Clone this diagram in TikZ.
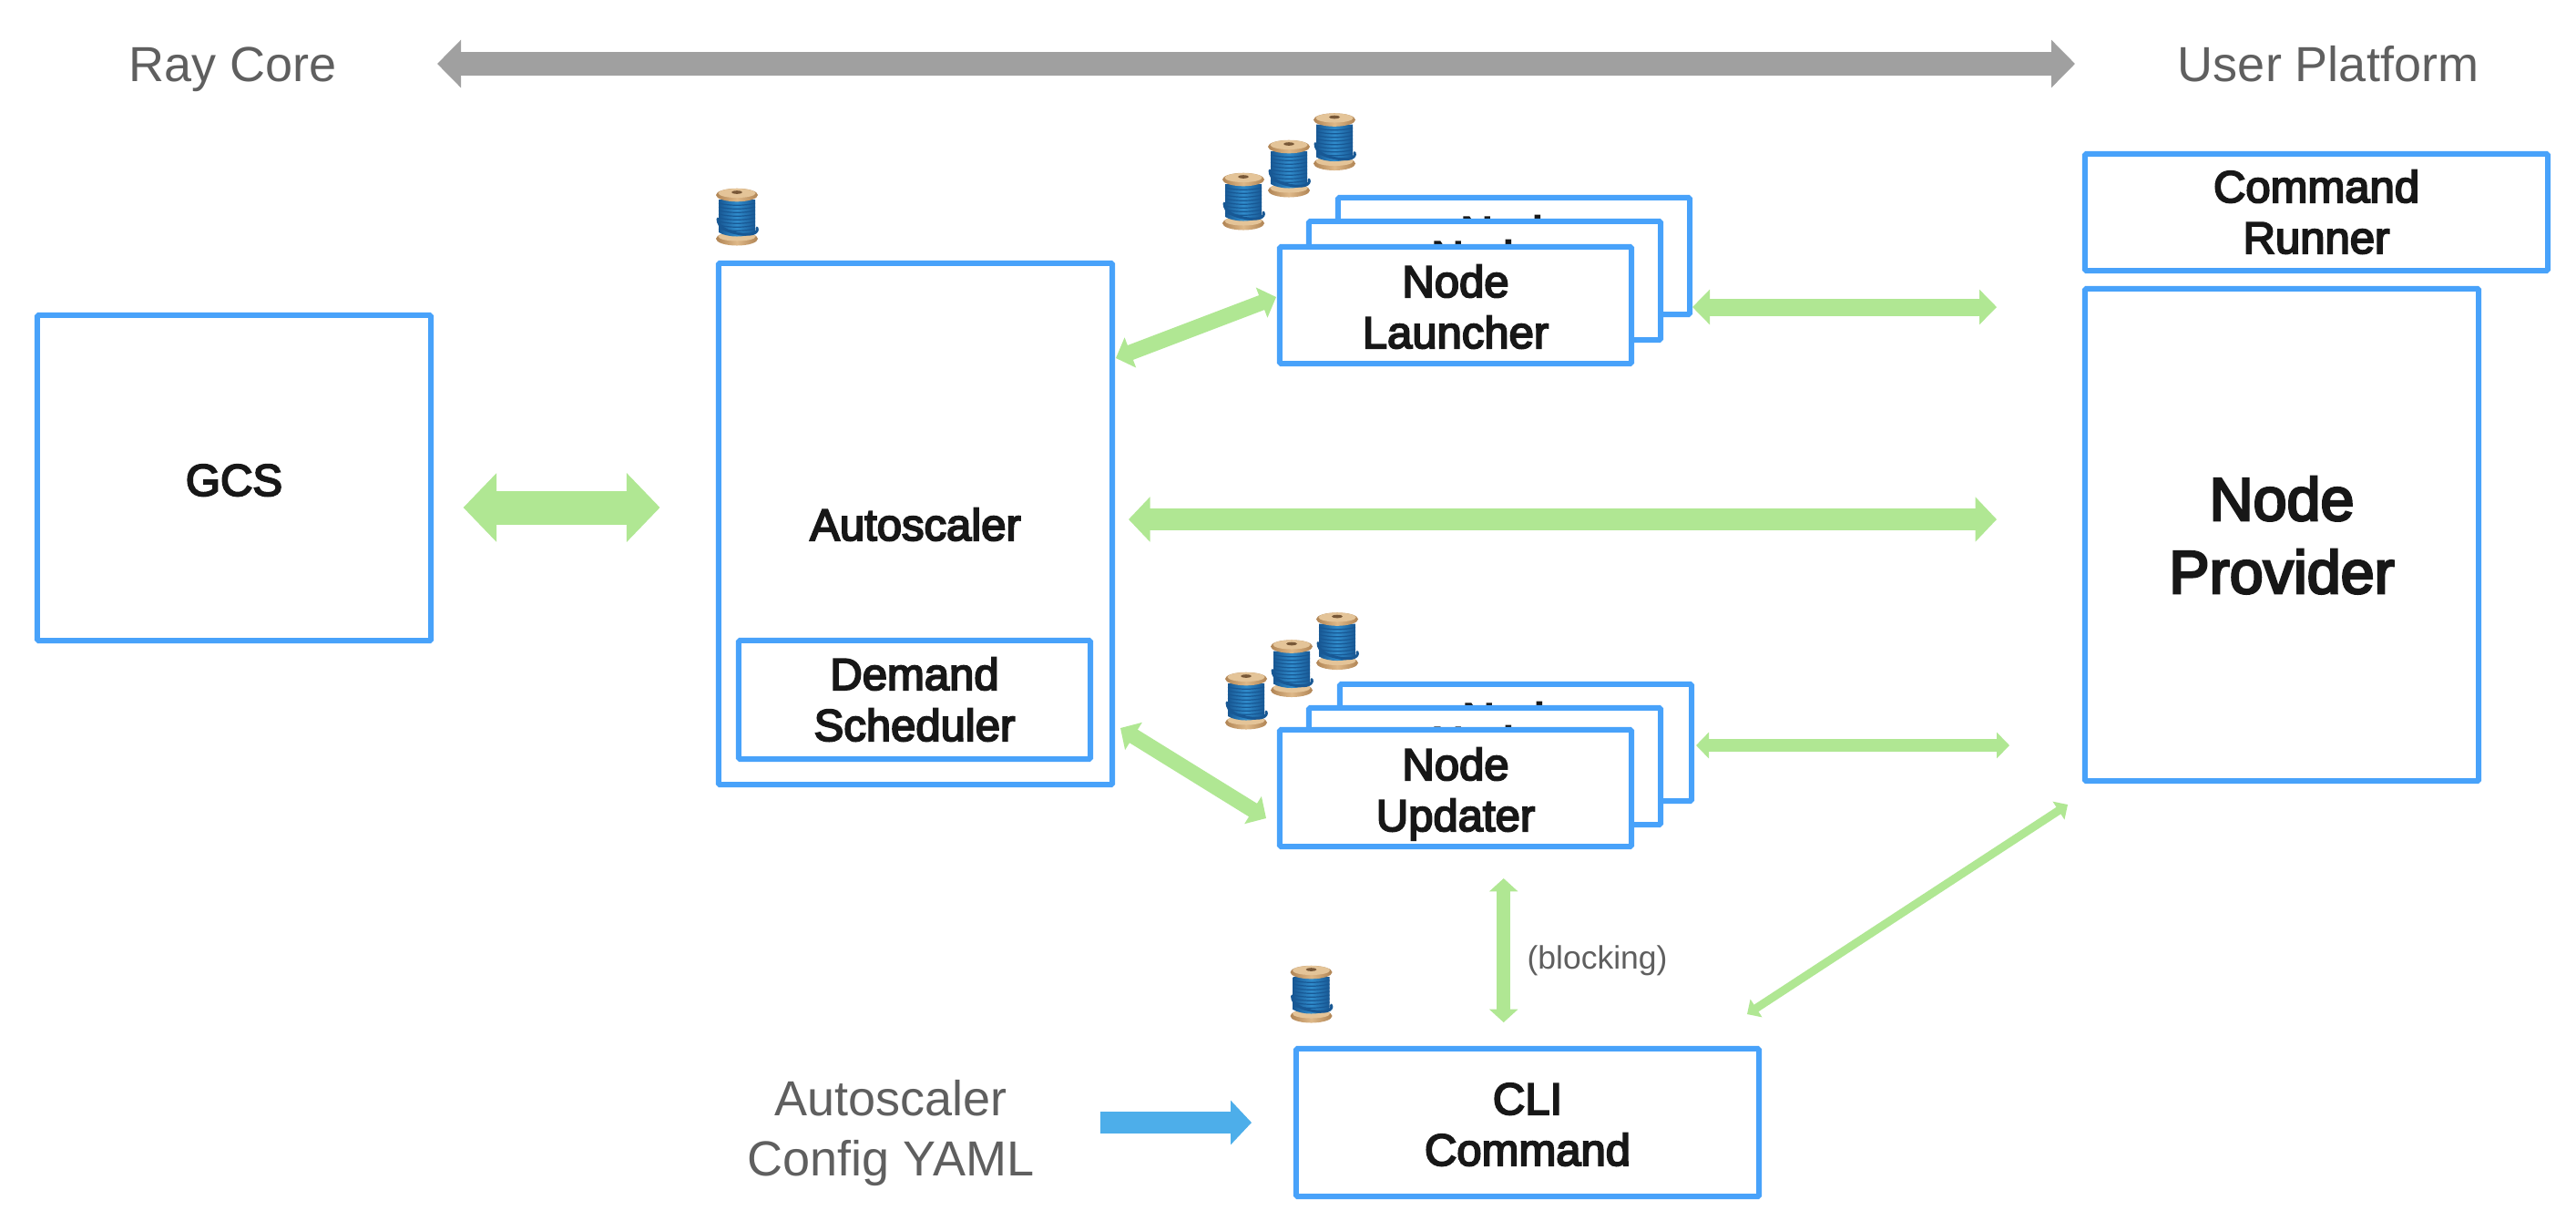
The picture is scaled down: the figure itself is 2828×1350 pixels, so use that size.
\documentclass[tikz,border=0pt]{standalone}
\usepackage{fontspec}
\usetikzlibrary{arrows.meta}
\setmainfont{Liberation Sans}
\newfontfamily\medfam[FakeBold=4]{Liberation Sans}
\definecolor{boxblue}{RGB}{72,162,250}
\definecolor{grn}{RGB}{176,231,147}
\definecolor{graya}{RGB}{160,160,160}
\definecolor{inkc}{RGB}{23,23,23}
\definecolor{grayt}{RGB}{95,95,95}
\definecolor{bluea}{RGB}{77,174,234}
\definecolor{wooddk}{RGB}{176,132,84}
\definecolor{woodlt}{RGB}{222,184,136}
\definecolor{woodtop}{RGB}{228,196,152}
\definecolor{woodhole}{RGB}{120,88,56}
\definecolor{threaddk}{RGB}{24,88,148}
\definecolor{threadlt}{RGB}{48,140,204}
\newcommand\tworows[4]{\rule{0pt}{#3cm}\smash{#1}\\\smash{#2}\rule[-#4cm]{0pt}{#4cm}}
\newcommand\onerow[2]{\rule{0pt}{#2cm}\smash{#1}}
\tikzset{
  x=0.01cm,y=-0.01cm,
  box/.style={draw=boxblue,fill=white,line width=.06cm,rounded corners=.015cm,outer sep=0pt,inner sep=0pt,align=center,text=inkc,font=\medfam\fontsize{13.94}{15.93}\selectfont},
  bigbox/.style={box,font=\medfam\fontsize{18.9}{22.76}\selectfont},
  graylabel/.style={text=grayt,inner sep=0pt,outer sep=0pt,align=center,font=\fontsize{15.36}{18.78}\selectfont},
  smalllabel/.style={text=grayt,inner sep=0pt,outer sep=0pt,font=\fontsize{10.1}{12}\selectfont},
  dbl/.style n args={4}{draw=#1,line width=#2cm,arrows={Triangle[length=#3cm,width=#4cm]-Triangle[length=#3cm,width=#4cm]}},
  sgl/.style n args={4}{draw=#1,line width=#2cm,arrows={-Triangle[length=#3cm,width=#4cm]}},
  spool/.pic={
    \shade[left color=wooddk,right color=wooddk,middle color=woodlt] (0,24) ellipse [x radius=23,y radius=7.5];
    \fill[woodtop] (0,21.5) ellipse [x radius=20.5,y radius=5];
    \shade[left color=threaddk,right color=threaddk,middle color=threadlt]
      (-20,-19) -- (-20,17) .. controls (-10,23) and (10,23) .. (20,17) -- (20,-19) -- cycle;
    \foreach \yy in {-15,-11,-7,-3,1,5,9,13}
      \draw[threaddk,line width=.012cm] (-20,\yy) .. controls (-8,\yy+3) and (8,\yy+3) .. (20,\yy);
    \draw[threaddk,line width=.03cm,line cap=round] (-21,2) .. controls (-21,12) and (-10,17) .. (6,19) .. controls (16,20) and (24,18) .. (22,12);
    \shade[left color=wooddk,right color=wooddk,middle color=woodlt] (0,-24) ellipse [x radius=23,y radius=7.3];
    \fill[woodtop] (0,-26) ellipse [x radius=20.5,y radius=5];
    \fill[woodhole] (0,-27) ellipse [x radius=6,y radius=1.8];
  }
}
\begin{document}
\begin{tikzpicture}
\fill[white] (0,0) rectangle (2828,1350);
\useasboundingbox (0,0) rectangle (2828,1350);

% labels
\node[graylabel,anchor=base] (raycore) at (256,89.5) {Ray Core};
\node[graylabel,anchor=base] (userplat) at (2556,89) {User Platform};
\node[graylabel] (yaml) at (978,1237) {\tworows{Autoscaler}{Config YAML}{.43}{.02}};

% boxes
\node[box,minimum width=4.32cm,minimum height=3.57cm] (gcs) at (257,524.5) {\onerow{GCS}{.39}};
\node[box,minimum width=4.32cm,minimum height=5.72cm] (autoscaler) at (1005,575) {\onerow{Autoscaler}{.36}};
\node[box,minimum width=3.86cm,minimum height=1.30cm] (demand) at (1004,768) {\tworows{Demand}{Scheduler}{.36}{.02}};
\node[box,minimum width=5.08cm,minimum height=1.28cm] (runner) at (2543,233) {\tworows{Command}{Runner}{.36}{.02}};
\node[bigbox,minimum width=4.32cm,minimum height=5.40cm] (provider) at (2505,587) {\tworows{Node}{Provider}{.50}{.02}};
\node[box,minimum width=5.08cm,minimum height=1.62cm] (cli) at (1677,1232) {\tworows{CLI}{Command}{.40}{.02}};

% stacked launcher boxes
\node[box,minimum width=3.86cm,minimum height=1.28cm] (launcherC) at (1662,281) {\tworows{Node}{\phantom{Launcher}}{.40}{.02}};
\node[box,minimum width=3.86cm,minimum height=1.30cm] (launcherB) at (1630,308) {\tworows{Node}{\phantom{Launcher}}{.40}{.02}};
\node[box,minimum width=3.86cm,minimum height=1.28cm] (launcherA) at (1598,335) {\tworows{Node}{Launcher}{.40}{.02}};

% stacked updater boxes
\node[box,minimum width=3.86cm,minimum height=1.28cm] (updaterC) at (1664,815) {\tworows{Node}{\phantom{Updater}}{.40}{.02}};
\node[box,minimum width=3.86cm,minimum height=1.28cm] (updaterB) at (1630,841) {\tworows{Node}{\phantom{Updater}}{.40}{.02}};
\node[box,minimum width=3.86cm,minimum height=1.28cm] (updaterA) at (1598,865) {\tworows{Node}{Updater}{.40}{.02}};

\node[smalllabel,anchor=base] (blocking) at (1753.5,1063) {(blocking)};

% connector ends
\coordinate (coreEnd) at (480,70);
\coordinate (platEnd) at (2278,70);
\coordinate (gcsEnd) at (508.6,557);
\coordinate (autoWest) at (724.5,557);
\coordinate (autoEast) at (1239,570);
\coordinate (provMid) at (2192,570);
\coordinate (stackLa) at (1858,337);
\coordinate (provLa) at (2192,337);
\coordinate (stackUp) at (1862,818);
\coordinate (provUp) at (2206,818);
\coordinate (autoLa) at (1225,393);
\coordinate (boxLa) at (1401,326);
\coordinate (autoUp) at (1230,799);
\coordinate (boxUp) at (1390,898);
\coordinate (upBlock) at (1650.7,964);
\coordinate (cliBlock) at (1650.7,1122);
\coordinate (cliProv) at (1918,1113);
\coordinate (provCli) at (2270,883);
\coordinate (yamlOut) at (1208,1232);
\coordinate (cliIn) at (1374,1232);

% connectors
\draw[dbl={graya}{.26}{.26}{.51}] (coreEnd) -- (platEnd);
\draw[dbl={grn}{.37}{.365}{.735}] (gcsEnd) -- (autoWest);
\draw[dbl={grn}{.24}{.235}{.48}] (autoEast) -- (provMid);
\draw[dbl={grn}{.19}{.19}{.375}] (stackLa) -- (provLa);
\draw[dbl={grn}{.14}{.14}{.28}] (stackUp) -- (provUp);
\draw[dbl={grn}{.17}{.17}{.345}] (autoLa) -- (boxLa);
\draw[dbl={grn}{.17}{.17}{.345}] (autoUp) -- (boxUp);
\draw[dbl={grn}{.15}{.143}{.306}] (upBlock) -- (cliBlock);
\draw[dbl={grn}{.09}{.12}{.23}] (cliProv) -- (provCli);
\draw[sgl={bluea}{.24}{.23}{.474}] (yamlOut) -- (cliIn);

% spools
\pic at (809,238) {spool};
\pic at (1365,221) {spool};
\pic at (1415,185) {spool};
\pic at (1465,155.5) {spool};
\pic at (1368,769) {spool};
\pic at (1418,733.5) {spool};
\pic at (1468,703.5) {spool};
\pic at (1439.5,1091) {spool};
\end{tikzpicture}
\end{document}
